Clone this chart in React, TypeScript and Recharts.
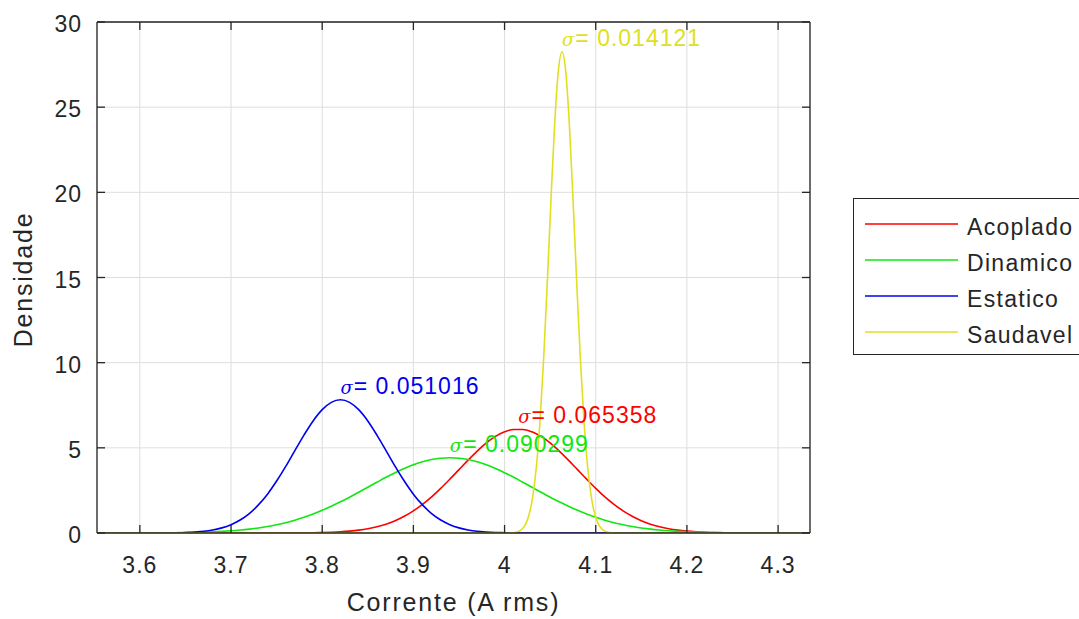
import React from 'react';
import { LineChart, Line, XAxis, YAxis, CartesianGrid, Legend, ReferenceDot, Label } from 'recharts';

const FONT = "'Liberation Sans', Arial, Helvetica, sans-serif";
const INK = '#262626';

// Current values (A rms)
const xs = [
  3.55, 3.56, 3.57, 3.58, 3.59, 3.6, 3.61, 3.62, 3.63, 3.64,
  3.65, 3.66, 3.67, 3.68, 3.69, 3.7, 3.71, 3.72, 3.73, 3.74,
  3.75, 3.76, 3.77, 3.78, 3.79, 3.8, 3.81, 3.82, 3.83, 3.84,
  3.85, 3.86, 3.87, 3.88, 3.89, 3.9, 3.91, 3.92, 3.93, 3.94,
  3.95, 3.96, 3.97, 3.98, 3.99, 4.0, 4.01, 4.02, 4.03, 4.04,
  4.05, 4.06, 4.07, 4.08, 4.09, 4.1, 4.11, 4.12, 4.13, 4.14,
  4.15, 4.16, 4.17, 4.18, 4.19, 4.2, 4.21, 4.22, 4.23, 4.24,
  4.25, 4.26, 4.27, 4.28, 4.29, 4.3, 4.31, 4.32, 4.33, 4.34,
];

const acoplado = [
  0, 0, 0, 0, 0, 0, 0, 0, 0, 0,
  0, 0, 0, 0, 0, 0, 0, 0, 0, 0,
  0, 0, 0.005, 0.009, 0.016, 0.027, 0.045, 0.071, 0.111, 0.169,
  0.252, 0.367, 0.52, 0.72, 0.98, 1.3, 1.68, 2.12, 2.62, 3.16,
  3.72, 4.28, 4.81, 5.29, 5.67, 5.94, 6.08, 6.08, 5.94, 5.67,
  5.29, 4.81, 4.28, 3.72, 3.16, 2.62, 2.12, 1.68, 1.3, 0.98,
  0.72, 0.52, 0.367, 0.252, 0.169, 0.111, 0.071, 0.045, 0.027, 0.016,
  0.009, 0.005, 0, 0, 0, 0, 0, 0, 0, 0,
];

const dinamico = [
  0.001, 0.001, 0.002, 0.002, 0.003, 0.004, 0.006, 0.008, 0.012, 0.018,
  0.025, 0.036, 0.051, 0.07, 0.096, 0.129, 0.172, 0.227, 0.296, 0.38,
  0.483, 0.605, 0.75, 0.92, 1.11, 1.33, 1.57, 1.83, 2.1, 2.39,
  2.69, 2.98, 3.27, 3.54, 3.79, 4.01, 4.18, 4.31, 4.39, 4.42,
  4.39, 4.31, 4.18, 4.01, 3.79, 3.54, 3.27, 2.98, 2.69, 2.39,
  2.1, 1.83, 1.57, 1.33, 1.11, 0.92, 0.75, 0.605, 0.483, 0.38,
  0.296, 0.227, 0.172, 0.129, 0.096, 0.07, 0.051, 0.036, 0.025, 0.018,
  0.012, 0.008, 0.006, 0.004, 0.003, 0.002, 0.002, 0.001, 0.001, 0,
];

const estatico = [
  0, 0, 0, 0, 0, 0, 0, 0, 0, 0,
  0.03, 0.057, 0.1, 0.18, 0.3, 0.49, 0.76, 1.14, 1.65, 2.28,
  3.05, 3.91, 4.84, 5.75, 6.58, 7.24, 7.67, 7.82, 7.67, 7.24,
  6.58, 5.75, 4.84, 3.91, 3.05, 2.28, 1.65, 1.14, 0.76, 0.49,
  0.3, 0.18, 0.1, 0.057, 0.03, 0.015, 0, 0, 0, 0,
  0, 0, 0, 0, 0, 0, 0, 0, 0, 0,
  0, 0, 0, 0, 0, 0, 0, 0, 0, 0,
  0, 0, 0, 0, 0, 0, 0, 0, 0, 0,
];

// Saudavel is very narrow, so it is read at a finer spacing
const saudavelX = [
  3.55, 3.65, 3.75, 3.85, 3.95, 4.0,
  4.003, 4.007, 4.011, 4.015, 4.019, 4.023, 4.027, 4.031, 4.035, 4.039,
  4.043, 4.047, 4.051, 4.055, 4.059, 4.063, 4.067, 4.071, 4.075, 4.079,
  4.083, 4.087, 4.091, 4.095, 4.099, 4.103, 4.107, 4.111, 4.115, 4.119, 4.123,
  4.13, 4.2, 4.25, 4.3, 4.34,
];
const saudavel = [
  0, 0, 0, 0, 0, 0,
  0.003, 0.011, 0.032, 0.088, 0.22, 0.51, 1.1, 2.17, 3.95, 6.66,
  10.36, 14.87, 19.69, 24.06, 27.14, 28.25, 27.14, 24.06, 19.69, 14.87,
  10.36, 6.66, 3.95, 2.17, 1.1, 0.51, 0.22, 0.088, 0.032, 0.011, 0.003,
  0, 0, 0, 0, 0,
];

const xTicks = [3.6, 3.7, 3.8, 3.9, 4.0, 4.1, 4.2, 4.3];
const yTicks = [0, 5, 10, 15, 20, 25, 30];
const xDomain = [3.553, 4.335];
const yDomain = [0, 30];

const seriesKeys = ['acoplado', 'dinamico', 'estatico', 'saudavel'];
const seriesNames = ['Acoplado', 'Dinamico', 'Estatico', 'Saudavel'];
const seriesColors = ['#ff0000', '#10e610', '#0000f0', '#e0e020'];
const sigmaText = ['0.065358', '0.090299', '0.051016', '0.014121'];
const peakX = [4.015, 3.94, 3.82, 4.063];
const peakY = [6.1, 4.42, 7.82, 28.25];

const rowMap = new Map<string, any>();
xs.forEach((x, i) => {
  rowMap.set(x.toFixed(3), { x, acoplado: acoplado[i], dinamico: dinamico[i], estatico: estatico[i] });
});
saudavelX.forEach((x, i) => {
  const k = x.toFixed(3);
  const r = rowMap.get(k) ?? { x };
  r.saudavel = saudavel[i];
  rowMap.set(k, r);
});
const data = Array.from(rowMap.values()).sort((a, b) => a.x - b.x);

const emptyTick = () => <g />;

const tickStyle = { fontSize: 23, fill: INK, fontFamily: FONT, letterSpacing: 1 };

const renderXLabel = (props: any) => {
  const vb = props.viewBox;
  return (
    <text x={vb.x + vb.width / 2} y={vb.y + 78} textAnchor="middle" fontSize={25} fill={INK} fontFamily={FONT} letterSpacing={1.8}>
      Corrente (A rms)
    </text>
  );
};

const renderYLabel = (props: any) => {
  const vb = props.viewBox;
  const cx = vb.x - 5;
  const cy = vb.y + vb.height / 2 + 2;
  return (
    <text x={cx} y={cy} transform={`rotate(-90 ${cx} ${cy})`} textAnchor="middle" fontSize={25} fill={INK} fontFamily={FONT} letterSpacing={1.8}>
      Densidade
    </text>
  );
};

const makeSigma = (i: number) => (props: any) => {
  const vb = props.viewBox;
  return (
    <text x={vb.x} y={vb.y - 6} fill={seriesColors[i]} fontSize={23} fontFamily={FONT} letterSpacing={1}>
      <tspan fontStyle="italic" fontFamily="'DejaVu Serif', serif" fontSize={18}>σ</tspan>
      <tspan>= {sigmaText[i]}</tspan>
    </text>
  );
};

const renderLegend = () => (
  <div
    style={{
      position: 'relative',
      width: 280,
      height: 157,
      borderTop: `1px solid ${INK}`,
      borderBottom: `1px solid ${INK}`,
      borderLeft: `1px solid ${INK}`,
      boxSizing: 'border-box',
      background: '#fff',
      fontFamily: FONT,
      fontSize: 23,
      color: INK,
      letterSpacing: 1.3,
    }}
  >
    {seriesNames.map((n, i) => (
      <div key={n} style={{ position: 'absolute', left: 11, top: 25 + i * 36 - 14, height: 28, display: 'flex', alignItems: 'center' }}>
        <svg width={93} height={4} style={{ display: 'block' }}>
          <line x1={0} y1={2} x2={93} y2={2} stroke={seriesColors[i]} strokeWidth={1.5} />
        </svg>
        <span style={{ marginLeft: 9, lineHeight: '28px', position: 'relative', top: 3 }}>{n}</span>
      </div>
    ))}
  </div>
);

export default function App() {
  return (
    <div style={{ position: 'absolute', left: 0, top: 0, width: 1079, height: 619, overflow: 'hidden', background: '#fff' }}>
      <LineChart width={1079} height={619} data={data} margin={{ top: 21, right: 268, bottom: 36, left: 37 }} style={{ fontFamily: FONT }}>
        <CartesianGrid xAxisId="b" yAxisId="l" stroke="#dedede" strokeWidth={1} />
        <XAxis
          xAxisId="b"
          dataKey="x"
          type="number"
          domain={xDomain}
          allowDataOverflow
          ticks={xTicks}
          interval={0}
          height={50}
          tickSize={-8}
          tickMargin={32}
          axisLine={{ stroke: INK, strokeWidth: 1.3 }}
          tickLine={{ stroke: INK, strokeWidth: 1.3 }}
          tick={tickStyle}
        >
          <Label content={renderXLabel} />
        </XAxis>
        <XAxis
          xAxisId="t"
          orientation="top"
          dataKey="x"
          type="number"
          domain={xDomain}
          allowDataOverflow
          ticks={xTicks}
          interval={0}
          height={1}
          tickSize={-8}
          axisLine={{ stroke: INK, strokeWidth: 1.3 }}
          tickLine={{ stroke: INK, strokeWidth: 1.3 }}
          tick={emptyTick}
        />
        <YAxis
          yAxisId="l"
          type="number"
          domain={yDomain}
          allowDataOverflow
          ticks={yTicks}
          interval={0}
          width={60}
          tickSize={-8}
          tickMargin={23}
          axisLine={{ stroke: INK, strokeWidth: 1.3 }}
          tickLine={{ stroke: INK, strokeWidth: 1.3 }}
          tick={{ ...tickStyle, dy: 2 }}
        >
          <Label content={renderYLabel} />
        </YAxis>
        <YAxis
          yAxisId="r"
          orientation="right"
          type="number"
          domain={yDomain}
          allowDataOverflow
          ticks={yTicks}
          interval={0}
          width={1}
          tickSize={-8}
          axisLine={{ stroke: INK, strokeWidth: 1.3 }}
          tickLine={{ stroke: INK, strokeWidth: 1.3 }}
          tick={emptyTick}
        />
        {seriesKeys.map((k, i) => (
          <Line
            key={k}
            xAxisId="b"
            yAxisId="l"
            type="monotone"
            dataKey={k}
            name={seriesNames[i]}
            stroke={seriesColors[i]}
            strokeWidth={1.6}
            dot={false}
            activeDot={false}
            connectNulls
            isAnimationActive={false}
          />
        ))}
        {seriesKeys.map((k, i) => (
          <ReferenceDot
            key={`lbl-${k}`}
            xAxisId="b"
            yAxisId="l"
            x={peakX[i]}
            y={peakY[i]}
            r={0}
            fill="none"
            stroke="none"
            ifOverflow="visible"
            label={makeSigma(i)}
          />
        ))}
        <Legend
          content={renderLegend}
          layout="vertical"
          align="center"
          verticalAlign="middle"
          wrapperStyle={{ left: 853, top: 198, width: 280, height: 157 }}
        />
      </LineChart>
    </div>
  );
}
